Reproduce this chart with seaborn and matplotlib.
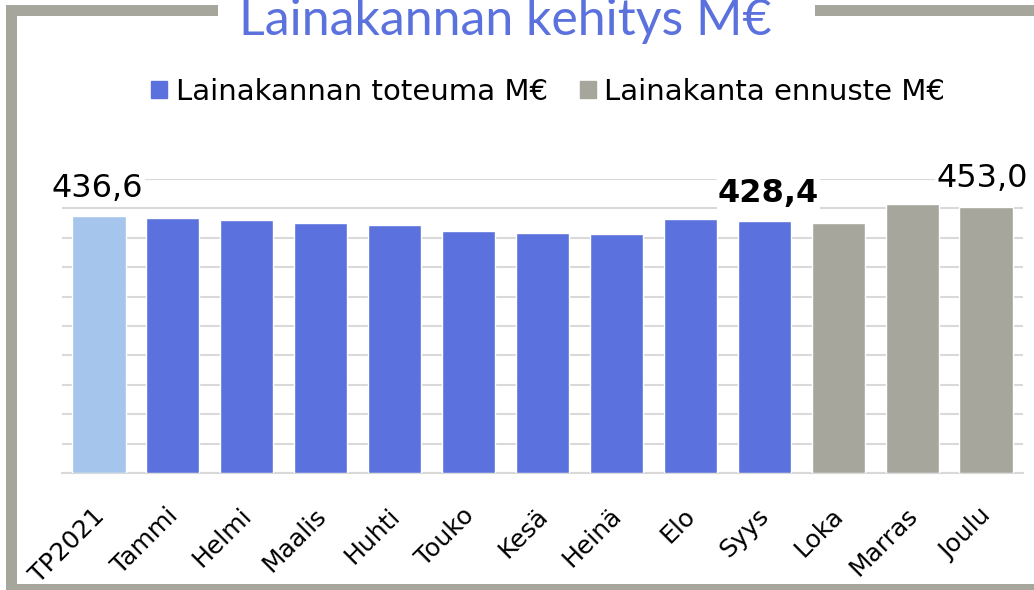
import matplotlib.pyplot as plt
import matplotlib.patches as mpatches
import matplotlib.transforms as mtransforms
import seaborn as sns
import pandas as pd

# Lainakannan kehitys M€ (luvut luettu kuvasta)
kuukaudet = ['TP2021', 'Tammi', 'Helmi', 'Maalis', 'Huhti', 'Touko', 'Kesä',
             'Heinä', 'Elo', 'Syys', 'Loka', 'Marras', 'Joulu']
lainakanta = [436.6, 433.5, 429.6, 425.0, 421.0, 411.4, 407.5,
              405.8, 431.8, 428.4, 424.5, 457.6, 453.0]
tyyppi = ['TP', 'toteuma', 'toteuma', 'toteuma', 'toteuma', 'toteuma', 'toteuma',
          'toteuma', 'toteuma', 'toteuma', 'ennuste', 'ennuste', 'ennuste']
selitteet = ['Lainakannan toteuma M€', 'Lainakanta ennuste M€']
nayta_arvo = ['TP2021', 'Syys', 'Joulu']
lihavoitu = ['Syys']

sininen = '#5B71DD'
vaalea = '#A6C5EC'
harmaa = '#A6A69D'
varit = {'TP': vaalea, 'toteuma': sininen, 'ennuste': harmaa}

df = pd.DataFrame({'kk': kuukaudet, 'arvo': lainakanta, 'tyyppi': tyyppi})

sns.set_style('white')
plt.rcParams['font.family'] = ['DejaVu Sans']
plt.rcParams['text.color'] = 'black'
plt.rcParams['xtick.color'] = 'black'

W, H = 1034, 590
fig = plt.figure(figsize=(W / 100, H / 100), dpi=100)
ax = fig.add_axes([62 / W, 1 - 473 / H, 961 / W, 294 / H])

sns.barplot(data=df, x='kk', y='arvo', hue='tyyppi', palette=varit,
            dodge=False, width=0.72, saturation=1, legend=False, ax=ax, zorder=3)

ax.set_ylim(0, 500)
ax.set_xlim(-0.5, len(kuukaudet) - 0.5)
ax.set_yticks(range(0, 501, 50))
ax.set_yticklabels([])
ax.grid(axis='y', color='#D9D9D9', linewidth=1.5, zorder=0)
ax.set_axisbelow(True)
for s in ['top', 'right', 'left']:
    ax.spines[s].set_visible(False)
ax.spines['bottom'].set_color('#D9D9D9')
ax.spines['bottom'].set_linewidth(1.5)
ax.set_xlabel('')
ax.set_ylabel('')

# akselin jakoviivat luokkien väliin
ax.set_xticks([i - 0.5 for i in range(len(kuukaudet) + 1)], minor=True)
ax.tick_params(axis='x', which='minor', length=6.5, width=1.5, color='#D9D9D9')
ax.tick_params(axis='x', which='major', length=0, pad=22)
ax.tick_params(axis='y', length=0)
ax.set_xticks(range(len(kuukaudet)))
ax.set_xticklabels(kuukaudet, rotation=45, ha='right', rotation_mode='anchor',
                   fontsize=18, color='black')
siirto = mtransforms.ScaledTranslation(-0.07, 0, fig.dpi_scale_trans)
for t in ax.get_xticklabels():
    t.set_transform(t.get_transform() + siirto)

# arvotunnisteet
siirrot = {'TP2021': -1, 'Syys': 3, 'Joulu': -3}
for i, (kk, v) in enumerate(zip(kuukaudet, lainakanta)):
    if kk in nayta_arvo:
        ax.annotate(f'{v:.1f}'.replace('.', ','), (i, v),
                    xytext=(siirrot.get(kk, 0), 14),
                    textcoords='offset points', ha='center', va='baseline',
                    fontsize=23, color='black',
                    fontweight='bold' if kk in lihavoitu else 'normal',
                    bbox=dict(facecolor='white', edgecolor='none', pad=1),
                    zorder=5)

# selite
kahvat = [mpatches.Patch(color=sininen), mpatches.Patch(color=harmaa)]
fig.legend(kahvat, selitteet, loc='center', bbox_to_anchor=(548 / W, 1 - 92 / H),
           ncol=2, frameon=False, fontsize=21, handlelength=0.55,
           handleheight=0.55, handletextpad=0.3, columnspacing=1.1,
           labelcolor='black')

# otsikko
fig.text(505 / W, 1 - 35 / H, 'Lainakannan kehitys M€', ha='center',
         va='baseline', fontsize=36, color=sininen, family=['Lato', 'DejaVu Sans'])

# harmaa kehys
kehys = '#A6A69C'
for x0, y0, x1, y1 in [(6, 5, 218, 16), (815, 5, W, 16), (6, 5, 17, H), (6, 584, W, H)]:
    fig.add_artist(mpatches.Rectangle((x0 / W, 1 - y1 / H), (x1 - x0) / W,
                                      (y1 - y0) / H, transform=fig.transFigure,
                                      facecolor=kehys, edgecolor='none'))

fig.savefig('out.png', dpi=100)
